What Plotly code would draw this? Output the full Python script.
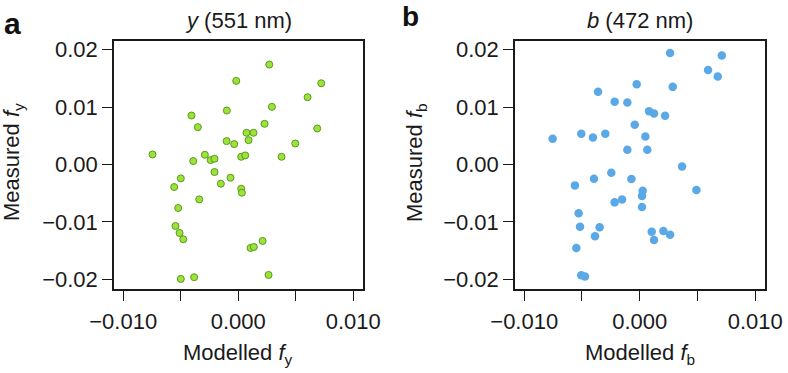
import plotly.graph_objects as go

# ---- data ----
y_modelled = [-0.00745, -0.00406, -0.00351, -0.00391, -0.0029, -0.0024, -0.00206, -0.00206,
              -0.00151, -0.00339, -0.00499, -0.00557, -0.00522, -0.00545, -0.0051, -0.00478,
              -0.00499, -0.00383, -0.00099, -0.00101, -0.00035, -0.00017, -0.00067, 0.00026,
              0.00032, 0.00026, 0.00061, 0.00072, 0.0009, 0.00133, 0.00107, 0.00136,
              0.00212, 0.00229, 0.0027, 0.00293, 0.00264, 0.00377, 0.00496, 0.00603,
              0.00687, 0.00722]
y_measured = [0.00174, 0.00852, 0.00649, 0.00058, 0.00168, 0.00075, 0.00099, -0.00133,
              -0.00336, -0.00609, -0.00243, -0.00394, -0.00759, -0.01072, -0.01194, -0.01304,
              -0.01994, -0.01965, 0.00939, 0.00406, 0.00354, 0.01455, -0.00232, -0.00423,
              -0.00493, 0.00133, 0.00157, 0.00551, 0.00423, 0.00551, -0.01455, -0.01438,
              -0.01333, 0.00707, 0.01739, 0.01003, -0.01925, 0.00133, 0.00365, 0.01171,
              0.00626, 0.01414]

b_modelled = [-0.00754, -0.00506, -0.00405, -0.00298, -0.00361, -0.00217, -0.00107, -0.00026,
              -0.00043, 0.00081, 0.00124, 0.0022, 0.00263, 0.00286, 0.00592, 0.00676,
              0.00711, 0.00049, -0.00107, 0.00066, 0.00367, 0.00491, -0.00561, -0.00396,
              -0.00246, -0.00072, -0.00217, -0.00153, 0.00026, 0.0002, 0.0002, -0.00529,
              -0.00517, -0.00347, -0.00387, -0.00549, -0.00506, -0.00474, 0.00104, 0.00124,
              0.00205, 0.00263]
b_measured = [0.00446, 0.00533, 0.0047, 0.00533, 0.01264, 0.0109, 0.01078, 0.01397,
              0.0069, 0.00928, 0.00887, 0.00846, 0.01942, 0.01351, 0.01646, 0.0153,
              0.01896, 0.00487, 0.00255, 0.00255, -0.00035, -0.00446, -0.00365, -0.00249,
              -0.00145, -0.00255, -0.00661, -0.00609, -0.00458, -0.00551, -0.00742, -0.00852,
              -0.01084, -0.01096, -0.01252, -0.01455, -0.0193, -0.01954, -0.01171, -0.01316,
              -0.01159, -0.01223]

x_tickvals = [-0.010, 0.000, 0.010]
x_ticktext = ["\u22120.010", "0.000", "0.010"]
x_minorvals = [-0.005, 0.005]
y_tickvals = [0.02, 0.01, 0.00, -0.01, -0.02]
y_ticktext = ["0.02", "0.01", "0.00", "\u22120.01", "\u22120.02"]

W, H = 788, 373
FONT = "Liberation Sans, Arial, Helvetica, sans-serif"
INK = "#1a1a1a"

def px(x):
    return x / W

def py(y):
    return 1 - y / H

fig = go.Figure()
fig.add_trace(go.Scatter(
    x=y_modelled, y=y_measured, mode="markers", xaxis="x", yaxis="y",
    marker=dict(size=7, color="#9be33b", line=dict(color="#5a9a1c", width=1)),
    showlegend=False, cliponaxis=False))
fig.add_trace(go.Scatter(
    x=b_modelled, y=b_measured, mode="markers", xaxis="x2", yaxis="y2",
    marker=dict(size=8.5, color="#5aa9e6", line=dict(width=0)),
    showlegend=False, cliponaxis=False))

xr = [-0.0108, 0.01085]
yr = [-0.0217, 0.0215]

def xaxis(domain, anchor):
    return dict(domain=domain, anchor=anchor, range=xr, tickmode="array",
                tickvals=x_tickvals, ticktext=x_ticktext,
                minor=dict(tickmode="array", tickvals=x_minorvals, ticks="outside",
                           ticklen=10, tickwidth=1.3, tickcolor=INK, showgrid=False),
                showline=True, mirror=True, linecolor=INK, linewidth=1.5,
                ticks="outside", ticklen=10, tickwidth=1.3, tickcolor=INK,
                showgrid=False, zeroline=False, automargin=False, ticklabelstandoff=2,
                tickfont=dict(family=FONT, size=22, color=INK))

def yaxis(domain, anchor):
    return dict(domain=domain, anchor=anchor, range=yr, tickmode="array",
                tickvals=y_tickvals, ticktext=y_ticktext,
                showline=True, mirror=True, linecolor=INK, linewidth=1.5,
                ticks="outside", ticklen=10, tickwidth=1.3, tickcolor=INK,
                showgrid=False, zeroline=False, automargin=False,
                tickfont=dict(family=FONT, size=22, color=INK))

ydom = [py(289), py(41)]
fig.update_layout(
    width=W, height=H, margin=dict(l=0, r=0, t=0, b=0, autoexpand=False),
    paper_bgcolor="white", plot_bgcolor="white",
    xaxis=xaxis([px(114), px(363)], "y"),
    yaxis=yaxis(ydom, "x"),
    xaxis2=xaxis([px(515), px(765)], "y2"),
    yaxis2=yaxis(ydom, "x2"),
)

ann_font = dict(family=FONT, size=22, color=INK)
anns = [
    dict(text="<i>y</i> (551 nm)", x=px(238.5), y=py(20)),
    dict(text="<i>b</i> (472 nm)", x=px(640), y=py(20)),
    dict(text="Modelled <i>f</i><sub>y</sub>", x=px(238.5), y=py(354)),
    dict(text="Modelled <i>f</i><sub>b</sub>", x=px(640), y=py(354)),
    dict(text="Measured <i>f</i><sub>y</sub>", x=px(13), y=py(162), textangle=-90),
    dict(text="Measured <i>f</i><sub>b</sub>", x=px(416), y=py(163), textangle=-90),
]
for a in anns:
    fig.add_annotation(xref="paper", yref="paper", showarrow=False, font=ann_font,
                       xanchor="center", yanchor="middle", **a)

fig.add_annotation(text="<b>a</b>", xref="paper", yref="paper", x=px(2), y=py(23),
                   xanchor="left", yanchor="middle", showarrow=False,
                   font=dict(family=FONT, size=30, color="#111"))
fig.add_annotation(text="<b>b</b>", xref="paper", yref="paper", x=px(400), y=py(16),
                   xanchor="left", yanchor="middle", showarrow=False,
                   font=dict(family=FONT, size=28, color="#111"))

# remove the browser's default 8px body margin so the figure fills the window
fig.write_html("out.html", config={"displayModeBar": False},
               post_script="document.body.style.margin='0';")
